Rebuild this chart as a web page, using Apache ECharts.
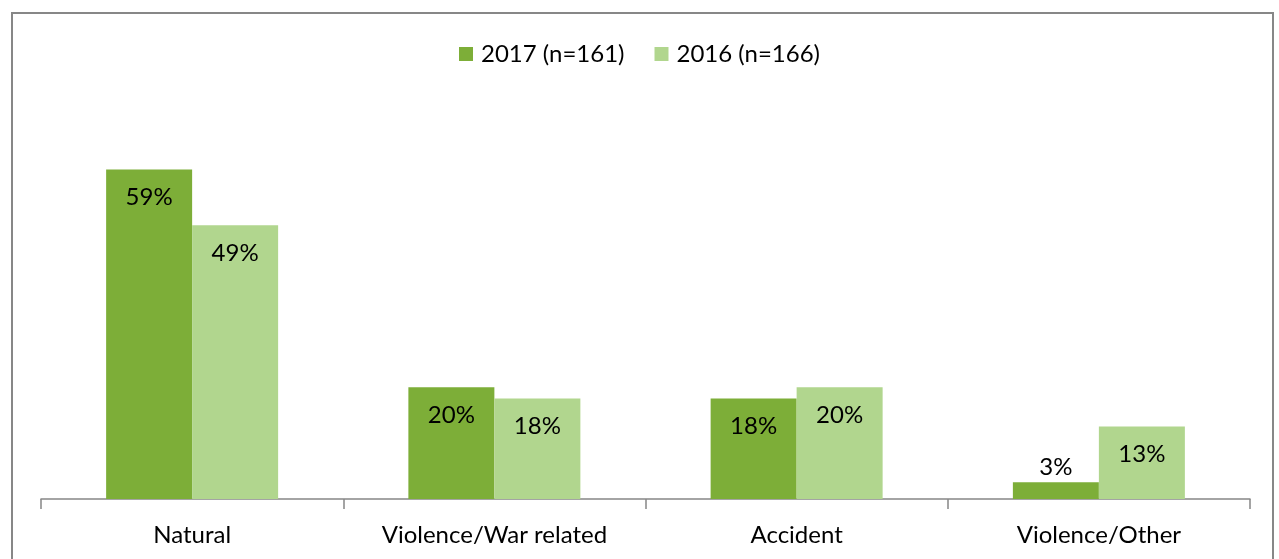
<!DOCTYPE html>
<html>
<head>
<meta charset="utf-8">
<script src="https://cdn.jsdelivr.net/npm/echarts@6/dist/echarts.min.js"></script>
<style>
  html, body { margin: 0; padding: 0; background: #fff; }
  #chart { width: 1279px; height: 559px; }
</style>
</head>
<body>
<div id="chart"></div>
<script>
// Causes of death, share of cases per year
const categories = ['Natural', 'Violence/War related', 'Accident', 'Violence/Other'];
const seriesNames = ['2017 (n=161)', '2016 (n=166)'];
const values2017 = [59, 20, 18, 3];
const values2016 = [49, 18, 20, 13];

const FONT = 'Lato, "Open Sans", sans-serif';
const FONT_SIZE = 24;
const DARK = '#7dae38';
const LIGHT = '#b1d68e';

// Short bars get their label placed above the bar instead of inside
function toData(values) {
  return values.map(v => v < 8
    ? { value: v, label: { position: 'top', distance: 3 } }
    : v);
}

const labelStyle = {
  show: true,
  position: 'insideTop',
  distance: 16,
  formatter: p => p.value + '%',
  color: '#000',
  fontFamily: FONT,
  fontSize: FONT_SIZE
};

const chart = echarts.init(document.getElementById('chart'), null, { renderer: 'canvas' });
chart.setOption({
  animation: false,
  backgroundColor: '#fff',
  graphic: [{
    type: 'rect',
    shape: { x: 12, y: 13, width: 1261, height: 560 },
    style: { fill: 'none', stroke: '#878787', lineWidth: 2 },
    silent: true
  }],
  legend: {
    top: 37,
    left: 'center',
    itemWidth: 14,
    itemHeight: 14,
    itemGap: 30,
    textStyle: { fontFamily: FONT, fontSize: FONT_SIZE, color: '#000', padding: [0, 0, 0, 3] },
    icon: 'rect',
    data: seriesNames
  },
  grid: { left: 41, right: 29, top: 108, bottom: 60, containLabel: false },
  xAxis: {
    type: 'category',
    data: categories,
    axisLine: { lineStyle: { color: '#868686', width: 1.5 } },
    axisTick: { show: true, length: 10, lineStyle: { color: '#868686', width: 1.5 } },
    axisLabel: { color: '#000', fontFamily: FONT, fontSize: FONT_SIZE, margin: 24 }
  },
  yAxis: {
    type: 'value',
    min: 0,
    max: 70,
    show: false,
    splitLine: { show: false }
  },
  series: [
    {
      name: seriesNames[0],
      type: 'bar',
      data: toData(values2017),
      itemStyle: { color: DARK },
      barWidth: 86,
      barGap: '0%',
      label: labelStyle
    },
    {
      name: seriesNames[1],
      type: 'bar',
      data: toData(values2016),
      itemStyle: { color: LIGHT },
      barWidth: 86,
      barGap: '0%',
      label: labelStyle
    }
  ]
});
</script>
</body>
</html>
